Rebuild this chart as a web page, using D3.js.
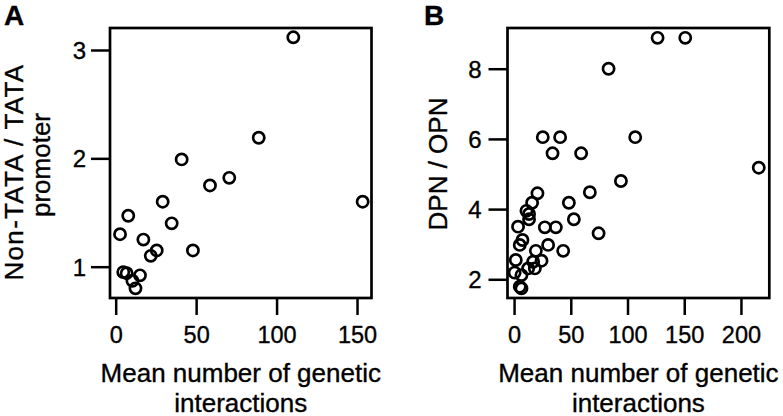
<!DOCTYPE html>
<html><head><meta charset="utf-8">
<script src="https://cdn.jsdelivr.net/npm/d3@7"></script>
<style>
body{margin:0;background:#fff}
svg{display:block;background:#fff}
text{font-family:"Liberation Sans",Arial,Helvetica,sans-serif;fill:#000;stroke:#000;stroke-width:0.35px}
</style>
</head><body>
<svg id="chart" width="783" height="416"></svg>
<script>
// ---- Data ----
// Panel A: mean number of genetic interactions vs Non-TATA / TATA promoter ratio
const aInteractions = [110.4, 88.9, 41.0, 70.6, 58.6, 29.2, 153.5, 7.8, 34.8, 2.7, 17.2, 48.0, 25.5, 21.8, 4.7, 6.8, 15.1, 10.4, 12.3];
const aRatio        = [3.117, 2.19, 1.99, 1.82, 1.75, 1.60, 1.60, 1.47, 1.40, 1.30, 1.25, 1.15, 1.15, 1.10, 0.95, 0.94, 0.92, 0.87, 0.80];
// Panel B: mean number of genetic interactions vs DPN / OPN ratio
const bInteractions = [126.5, 150.9, 83.3, 25.3, 40.6, 106.8, 33.9, 59.1, 215.7, 94.2, 20.6, 66.8, 15.9, 48.3, 10.9, 13.2, 13.2, 3.5, 27.1, 36.8, 52.7, 74.5, 7.4, 5.0, 30.0, 19.2, 43.3, 1.5, 24.2, 16.8, 12.4, 18.3, 0.5, 6.5, 5.0, 6.5];
const bRatio        = [8.88, 8.88, 8.00, 6.05, 6.05, 6.05, 5.59, 5.59, 5.18, 4.80, 4.45, 4.48, 4.18, 4.18, 3.95, 3.86, 3.71, 3.50, 3.48, 3.48, 3.71, 3.31, 3.12, 2.98, 2.98, 2.81, 2.81, 2.55, 2.53, 2.50, 2.31, 2.31, 2.19, 2.12, 1.79, 1.74];
// Tick labels
const aXTicks = [0, 50, 100, 150];
const aYTicks = [1, 2, 3];
const bXTicks = [0, 50, 100, 150, 200];
const bYTicks = [2, 4, 6, 8];
// Labels
const panelLabels = ["A", "B"];
const xTitleLines = ["Mean number of genetic", "interactions"];
const aYTitleLines = ["Non-TATA / TATA", "promoter"];
const bYTitleLines = ["DPN / OPN"];

const svg = d3.select("#chart");
svg.append("rect").attr("width", 783).attr("height", 416).attr("fill", "#fff");

function panel(cfg) {
  const x = d3.scaleLinear().domain(cfg.xDomain).range([cfg.left, cfg.right]);
  const y = d3.scaleLinear().domain(cfg.yDomain).range([cfg.bottom, cfg.top]);
  const g = svg.append("g");

  // x axis
  const xa = g.append("g").attr("transform", `translate(0,${cfg.bottom})`)
    .call(d3.axisBottom(x).tickValues(cfg.xTicks).tickSize(17).tickSizeOuter(0).tickFormat(d3.format("d")));
  xa.select(".domain").remove();
  xa.selectAll(".tick line").attr("stroke", "#000").attr("stroke-width", 2.5);
  xa.selectAll(".tick text").attr("y", 28.5).attr("dy", "0.71em")
    .style("font-size", "23.5px").attr("fill", "#000");

  // y axis
  const ya = g.append("g").attr("transform", `translate(${cfg.left},0)`)
    .call(d3.axisLeft(y).tickValues(cfg.yTicks).tickSize(19).tickSizeOuter(0).tickFormat(d3.format("d")));
  ya.select(".domain").remove();
  ya.selectAll(".tick line").attr("stroke", "#000").attr("stroke-width", 2.5);
  ya.selectAll(".tick text").attr("x", -cfg.yLabelGap).attr("dy", "0.35em")
    .style("font-size", "24px").attr("fill", "#000");

  // box
  g.append("rect").attr("x", cfg.left).attr("y", cfg.top)
    .attr("width", cfg.right - cfg.left).attr("height", cfg.bottom - cfg.top)
    .attr("fill", "none").attr("stroke", "#000").attr("stroke-width", 2.7);

  // points
  g.append("g").selectAll("circle").data(d3.range(cfg.xs.length)).join("circle")
    .attr("cx", i => x(cfg.xs[i])).attr("cy", i => y(cfg.ys[i]))
    .attr("r", 5.6).attr("fill", "none").attr("stroke", "#000").attr("stroke-width", 2.7);

  // x title
  const cx = (cfg.left + cfg.right) / 2;
  g.append("text").attr("x", cx).attr("y", 381.5).attr("text-anchor", "middle")
    .style("font-size", "26px").text(xTitleLines[0]);
  g.append("text").attr("x", cx).attr("y", 411.5).attr("text-anchor", "middle")
    .style("font-size", "26px").text(xTitleLines[1]);

  // y title
  cfg.yTitle.forEach((t, i) => {
    g.append("text")
      .attr("transform", `translate(${cfg.yTitlePos[i][0]},${cfg.yTitlePos[i][1]}) rotate(-90)`)
      .attr("text-anchor", "middle")
      .style("font-size", "26px")
      .style("letter-spacing", cfg.yTitleSpacing[i] + "px")
      .text(t);
  });

  // panel letter
  g.append("text").attr("x", cfg.labelX).attr("y", 25)
    .style("font-size", "28px").style("font-weight", "bold").text(cfg.label);
}

panel({
  left: 110, right: 371.5, top: 28, bottom: 298,
  xDomain: [-3.54, 159.0], yDomain: [0.711, 3.203],
  xTicks: aXTicks, yTicks: aYTicks, yLabelGap: 24,
  xs: aInteractions, ys: aRatio,
  yTitle: aYTitleLines, yTitlePos: [[23, 172], [50, 165]], yTitleSpacing: [1.3, 0],
  label: panelLabels[0], labelX: 4
});

panel({
  left: 507.5, right: 769.3, top: 28, bottom: 298,
  xDomain: [-5.8, 225.0], yDomain: [1.467, 9.16],
  xTicks: bXTicks, yTicks: bYTicks, yLabelGap: 26,
  xs: bInteractions, ys: bRatio,
  yTitle: bYTitleLines, yTitlePos: [[447, 164]], yTitleSpacing: [0],
  label: panelLabels[1], labelX: 424
});
</script>
</body></html>
